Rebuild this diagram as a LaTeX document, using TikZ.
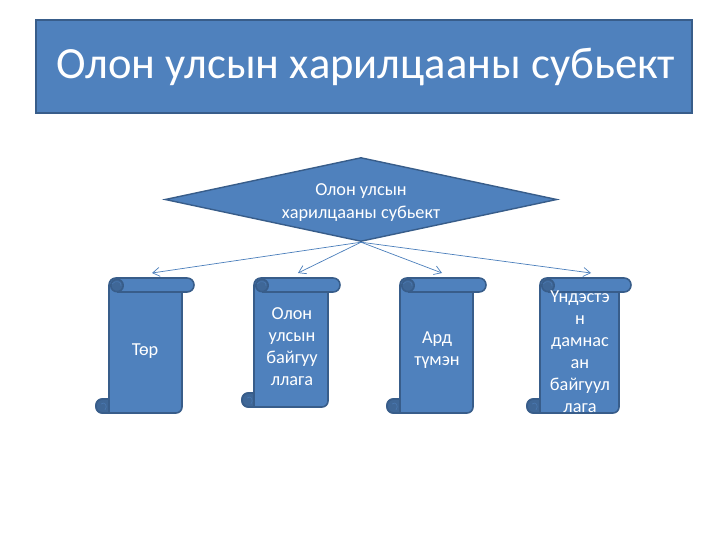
\documentclass[tikz,border=0pt]{standalone}
\usepackage{fontspec}
\setmainfont{Carlito}
\usetikzlibrary{shapes.geometric,arrows.meta}
\definecolor{fillblue}{HTML}{4F81BD}
\definecolor{edgeblue}{HTML}{385D8A}
\definecolor{curlblue}{HTML}{3F6797}
\definecolor{linkblue}{HTML}{4A7EBB}
\tikzset{
  headerbox/.style={draw=edgeblue,line width=1.4pt,fill=fillblue,text=white,inner sep=0pt,
    minimum width=656pt,minimum height=93pt,font=\fontsize{44.6}{52}\selectfont},
  rhombus/.style={diamond,draw=edgeblue,line width=1.4pt,fill=fillblue,text=white,inner sep=0pt,
    minimum width=392pt,minimum height=84pt,aspect=4.67,align=center,
    font=\fontsize{18.3}{23}\selectfont},
  scrollbody/.style={draw=edgeblue,line width=1.6pt,fill=fillblue,line join=round},
  scrollcurl/.style={draw=edgeblue,line width=1.6pt,fill=curlblue,line join=round},
  scrollswirl/.style={draw=fillblue!70!edgeblue,line width=0.7pt},
  scrolltext/.style={text=white,align=center,inner sep=0pt,font=\fontsize{18.3}{22}\selectfont},
  link/.style={draw=linkblue,line width=0.7pt,-{Straight Barb[length=7pt,width=9pt,line width=0.7pt]}}
}
% name, left, bar right, body right, bottom, curl left, text x, text y, text
\newcommand{\scrollshape}[9]{
  \path[scrollbody] ({#2+25},278) [rounded corners=6.9pt] -- (#3,278) -- (#3,292) [sharp corners] -- (#4,292)
    [rounded corners=6pt] -- (#4,#5) -- (#6,#5) -- (#6,{#5-14}) [sharp corners] -- (#2,{#5-14})
    [rounded corners=6.9pt] -- (#2,278) -- cycle;
  \draw[scrollcurl] (#2,{#5-14}) [rounded corners=6.9pt] -- (#6,{#5-14}) -- (#6,#5) [sharp corners] -- (#2,#5) -- cycle;
  \draw[scrollswirl] ({#6+5},{#5-9}) .. controls ({#6+9},{#5-12}) and ({#6+12},{#5-7}) .. ({#6+9},{#5-3});
  \draw[scrollcurl] ({#2+8},285.5) circle[radius=6.2pt];
  \draw[scrollswirl] ({#2+3},284) .. controls ({#2+6},280) and ({#2+13},281) .. ({#2+12},286);
  \draw[edgeblue,line width=1.6pt] ({#2+8},292) -- (#4,292);
  \node[scrolltext] (#1) at (#7,#8) {#9};
}
\begin{document}
\begin{tikzpicture}[x=1pt,y=-1pt]
  \useasboundingbox (0,0) rectangle (728,546);
  \node[headerbox] (title) at (364,66.5) {\hspace*{4pt}\raisebox{-5pt}{Олон улсын харилцааны субьект}};
  \node[rhombus] (hub) at (361,199.5) {\rule{0pt}{17pt}Олон улсын\\харилцааны субьект};
  \scrollshape{s1}{109}{194}{182}{413}{96}{145}{351.5}{Төр}
  \scrollshape{s2}{254}{340}{328}{407}{242}{292}{347}{Олон\\улсын\\байгуу\\ллага}
  \scrollshape{s3}{400}{486}{473}{413}{387}{437}{350.5}{Ард\\түмэн}
  \scrollshape{s4}{540}{631}{619}{413}{527}{580}{352}{Үндэстэ\\н\\дамнас\\ан\\байгуул\\лага}
  \coordinate (t1) at (152,273);
  \coordinate (t2) at (298,273);
  \coordinate (t3) at (442,273);
  \coordinate (t4) at (591,273);
  \draw[link] (hub.south) -- (t1);
  \draw[link] (hub.south) -- (t2);
  \draw[link] (hub.south) -- (t3);
  \draw[link] (hub.south) -- (t4);
\end{tikzpicture}
\end{document}
